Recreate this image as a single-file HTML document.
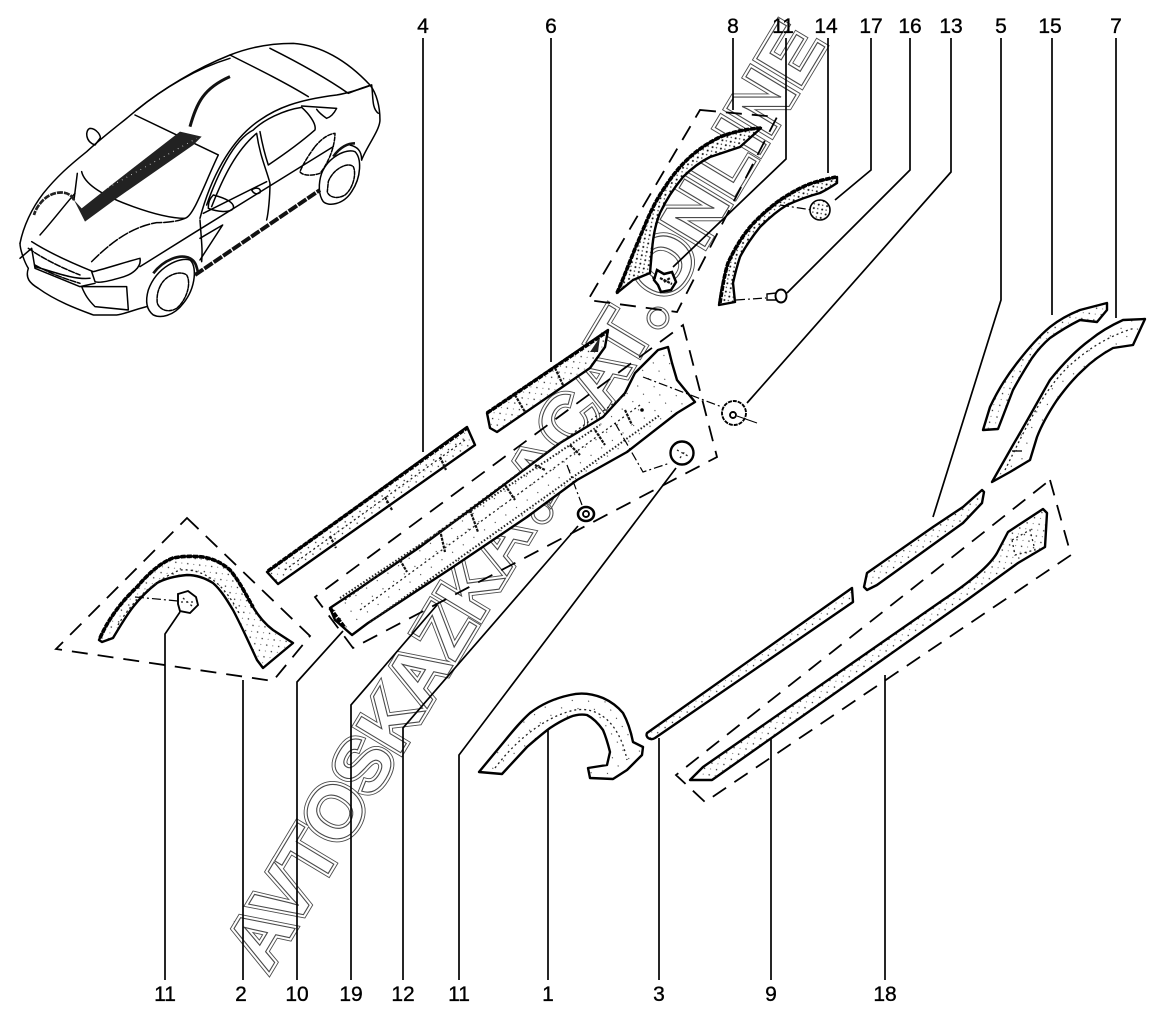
<!DOCTYPE html>
<html><head><meta charset="utf-8"><style>
html,body{margin:0;padding:0;background:#fff}
svg{display:block}
.w1{font:bold 76px "Liberation Sans",sans-serif;fill:#fff;stroke:#4a4a4a;stroke-width:7;stroke-linejoin:miter}
.w2{font:bold 76px "Liberation Sans",sans-serif;fill:#fff;stroke:#fff;stroke-width:5.2;stroke-linejoin:miter}
.w3{font:bold 76px "Liberation Sans",sans-serif;fill:#fff;stroke:#4a4a4a;stroke-width:1.1}
.l{font:21px "Liberation Sans",sans-serif;fill:#000;text-anchor:middle;stroke:#000;stroke-width:.35}
.ld{fill:none;stroke:#000;stroke-width:1.7}
.bx{fill:none;stroke:#000;stroke-width:1.8;stroke-dasharray:16 10}
.p{fill:url(#st);stroke:#000;stroke-width:2.4;stroke-linejoin:round}
.p2{fill:url(#st2);stroke:#000;stroke-width:2.4;stroke-linejoin:round}
.p0{fill:url(#st0);stroke:#000;stroke-width:2.4;stroke-linejoin:round}
.e{fill:none;stroke:#000;stroke-width:3.6;stroke-dasharray:5 1.2}
.d{fill:none;stroke:#222;stroke-width:1.3;stroke-dasharray:2 3}
.r{fill:none;stroke:#111;stroke-width:2.2;stroke-dasharray:3 1}
.c{fill:none;stroke:#000;stroke-width:1.2;stroke-dasharray:9 3 2 3}
.f{fill:#fff;stroke:#000;stroke-width:1.9}
.car{fill:none;stroke:#000;stroke-width:4.5;stroke-linecap:round;stroke-linejoin:round}
.ring{fill:none;stroke:#555;stroke-width:1.1}
</style></head><body>
<svg width="1163" height="1018" viewBox="0 0 1163 1018" xmlns="http://www.w3.org/2000/svg">
<defs>
<pattern id="st" width="9" height="8" patternUnits="userSpaceOnUse" patternTransform="rotate(-35)">
<rect width="9" height="8" fill="#fff"/><circle cx="1.5" cy="1.5" r=".7" fill="#222"/><circle cx="6" cy="5.5" r=".55" fill="#555"/>
</pattern>
<pattern id="st2" width="6" height="6" patternUnits="userSpaceOnUse" patternTransform="rotate(-35)">
<rect width="6" height="6" fill="#fff"/><circle cx="1.3" cy="1.3" r="1" fill="#111"/><circle cx="4.2" cy="4" r=".7" fill="#333"/>
</pattern>
<pattern id="st0" width="13" height="10" patternUnits="userSpaceOnUse" patternTransform="rotate(-35)">
<rect width="13" height="10" fill="#fff"/><circle cx="2" cy="2" r=".6" fill="#333"/>
</pattern>
</defs>

<!-- watermark: baseline from (270,978) at -59deg -->
<g transform="translate(270,978) rotate(-59)">
<g class="wm">
<text class="w1" x="3" y="-4" textLength="516" lengthAdjust="spacingAndGlyphs">AVTOSKAZKA</text>
<text class="w1" x="549" y="-4" textLength="203" lengthAdjust="spacingAndGlyphs">ACAT</text>
<text class="w1" x="783" y="-4" textLength="304" lengthAdjust="spacingAndGlyphs">ONLINE</text>
<text class="w2" x="3" y="-4" textLength="516" lengthAdjust="spacingAndGlyphs">AVTOSKAZKA</text>
<text class="w2" x="549" y="-4" textLength="203" lengthAdjust="spacingAndGlyphs">ACAT</text>
<text class="w2" x="783" y="-4" textLength="304" lengthAdjust="spacingAndGlyphs">ONLINE</text>
<text class="w3" x="3" y="-4" textLength="516" lengthAdjust="spacingAndGlyphs">AVTOSKAZKA</text>
<text class="w3" x="549" y="-4" textLength="203" lengthAdjust="spacingAndGlyphs">ACAT</text>
<text class="w3" x="783" y="-4" textLength="304" lengthAdjust="spacingAndGlyphs">ONLINE</text>
</g>
</g>
<circle class="ring" cx="542" cy="513" r="11"/><circle class="ring" cx="542" cy="513" r="8"/>
<circle class="ring" cx="658" cy="318" r="11"/><circle class="ring" cx="658" cy="318" r="8"/>

<!-- car -->
<g transform="translate(0,30) scale(.3333)">
<path class="car" d="M60 640C70 590 95 535 130 490C170 440 210 405 260 365C320 310 370 275 410 240C490 175 590 115 690 75C740 55 800 40 880 40C960 45 1040 90 1110 165C1130 190 1140 230 1140 270C1140 300 1100 350 1085 390"/>
<path class="car" d="M410 240C490 175 590 115 690 85M690 75C780 120 860 160 925 200M810 55C900 100 980 145 1045 190M1045 190C1070 180 1095 170 1115 165M1115 165C1120 200 1115 235 1135 250"/>
<path class="car" d="M405 255L655 375M245 425C255 470 330 505 400 530C450 548 510 565 555 565C580 560 610 470 655 375"/>
<path class="car" d="M600 565C630 450 690 330 780 270C830 235 890 210 1010 195C1040 190 1080 178 1115 165"/>
<path class="car" d="M620 525C650 440 700 330 760 300M635 530C670 440 710 360 770 310M760 300C790 270 850 240 905 232C925 250 950 280 945 300M780 305C790 360 800 390 805 405C850 375 905 335 945 300M770 310C780 380 800 420 810 460C810 500 805 550 800 570M600 570C605 640 608 660 605 695"/>
<path class="car" d="M905 228L1010 235C1000 255 990 262 980 265C965 255 955 245 950 238"/>
<path class="car" d="M945 350C970 320 990 312 1005 310C1005 350 985 400 960 430C930 440 905 435 900 425C910 400 930 370 945 350" stroke-dasharray="12 5"/>
<path class="car" d="M640 495C680 505 705 520 700 535C690 550 650 545 625 535C625 515 630 505 640 495M610 550L800 455M755 480C770 470 785 475 780 488C770 495 760 490 755 480"/>
<path class="car" d="M600 690L668 585L600 625M420 710L580 610L1000 350"/>
<path class="car" d="M275 695C340 630 400 590 470 578C510 578 540 572 555 565" stroke-dasharray="30 6"/>
<path class="car" d="M120 615C160 570 190 530 225 490" />
<path class="car" d="M232 430L222 510"/>
<path class="car" d="M95 635C150 670 230 705 280 725C330 712 380 695 420 685C425 710 400 735 355 745C320 755 295 760 285 755L275 725"/>
<path class="car" d="M60 640C60 660 75 700 85 715C75 745 90 760 115 775C170 815 240 840 280 855L350 855C365 855 400 840 440 830"/>
<path class="car" d="M60 685L95 655L105 715L240 770L285 760M105 710C160 725 220 750 270 745M245 770L380 770L385 840L285 830C265 810 255 795 245 770"/>
<path class="car" d="M85 655C135 690 190 715 240 735M105 705C150 730 190 745 240 760" stroke-dasharray="18 5"/>
<path class="car" d="M445 780C470 710 540 680 570 690C590 705 590 770 550 820C520 860 480 865 460 855C440 840 435 815 445 780Z"/>
<path class="car" d="M480 770C495 735 540 720 560 735C575 760 560 810 530 835C505 850 480 840 472 820C470 805 472 785 480 770Z" stroke-dasharray="10 4" stroke-width="3"/>
<path class="car" d="M965 430C985 380 1040 355 1065 365C1085 385 1085 440 1055 485C1030 525 985 530 970 515C955 495 955 460 965 430Z"/>
<path class="car" d="M985 455C1000 415 1045 395 1060 410C1070 430 1060 475 1035 495C1010 510 985 500 982 485Z" stroke-dasharray="10 4" stroke-width="3"/>
<path class="car" d="M1085 390C1085 360 1070 350 1050 345"/>
<path class="car" d="M285 345C255 335 255 300 270 295C290 295 305 320 300 325L285 345Z"/>
<!-- thick dark moldings -->
<path d="M222 510L245 535L330 468L540 305L605 320L580 345L350 505L255 575Z" fill="#222"/>
<path d="M240 520L590 325" fill="none" stroke="#fff" stroke-width="3" stroke-dasharray="2 14"/>
<path d="M222 510C210 480 160 480 130 510C110 530 105 545 102 555" fill="none" stroke="#222" stroke-width="8" stroke-dasharray="18 3"/>
<path d="M570 290C590 220 610 175 690 140" fill="none" stroke="#111" stroke-width="9"/>
<path d="M585 735L960 480" fill="none" stroke="#111" stroke-width="12" stroke-dasharray="30 4"/>
<path d="M460 730C490 690 540 670 570 685C590 695 590 715 595 730" fill="none" stroke="#111" stroke-width="8"/>
<path d="M1000 380C1020 350 1045 340 1065 340" fill="none" stroke="#111" stroke-width="8"/>
</g>

<!-- dashed boxes -->
<path class="bx" d="M187 518L310 636L273 681L56 649Z"/>
<path class="bx" d="M700 110L777 117L677 312L588 300Z"/>
<path class="bx" d="M683 325L717 457L353 648L315 597Z"/>
<path class="bx" d="M1050 480L1071 555L705 802L676 775Z"/>

<!-- part 2 -->
<path class="p" d="M99 640C108 620 120 603 137 587C148 574 160 563 173 558C183 556 193 556 203 557C214 559 222 563 230 570C240 582 246 595 253 607C259 617 265 624 273 630L293 643L263 668L257 660C250 645 242 627 233 610C227 600 221 590 213 583C205 578 196 575 187 575C176 576 166 578 157 583C148 590 140 598 133 607C126 616 119 628 113 638L102 642Z"/>
<path class="e" d="M100 638C108 620 120 603 137 587C148 574 160 563 173 558C183 556 193 556 203 557C214 559 222 563 230 570C240 582 246 595 253 607"/>
<path class="d" d="M118 625C130 605 150 582 180 570C205 568 225 585 240 615"/>
<!-- part 1 -->
<path class="p0" d="M479 772L503 743C512 732 520 722 530 713C543 703 556 698 570 695C582 692 593 694 603 698C612 702 618 707 623 713C628 722 631 732 633 742L643 747L642 755L627 770L613 779L590 778L588 768L607 765L610 752C608 744 606 737 603 730C598 723 593 718 587 715C581 714 575 715 570 717C563 720 556 724 550 728C542 734 535 740 527 747L502 774Z"/>
<path class="d" d="M495 768C520 735 550 715 575 710C600 706 620 725 627 760"/>
<!-- part 4 -->
<path class="p" d="M267 572L467 427L475 445L278 584Z"/>
<path class="e" d="M268 571L467 428"/>
<path class="d" d="M285 570L465 440"/>
<path class="r" d="M330 536L336 548M385 497L392 510M440 457L446 470"/>
<!-- part 6 -->
<path class="p" d="M487 413L608 330L605 347L590 368L497 432L490 428Z"/>
<path class="e" d="M487 413L608 331"/>
<path class="r" d="M515 395L525 412M555 368L563 385"/>
<path d="M600 337L590 352L598 352Z" fill="#222"/>
<!-- part 10 -->
<path class="p0" d="M330 608L357 590L420 547L493 493L560 443L603 417L625 393L635 373L658 350L668 347L672 363L677 380L695 402L677 413L627 452L577 480L527 517L453 567L368 623L352 635L335 620Z"/>
<path class="d" d="M360 610L640 405"/>
<path class="d" d="M345 600L625 395"/>
<path class="d" d="M340 598L600 425" style="stroke-width:2;stroke-dasharray:1.5 2"/>
<path class="d" d="M370 622L660 415" style="stroke-width:2;stroke-dasharray:1.5 2"/>
<path class="r" d="M400 560L407 572M440 530L445 552M470 510L478 532M505 485L515 500M535 465L545 470M570 445L580 455M595 430L605 445M625 410L632 425"/>
<path d="M330 608L345 628" class="e"/>
<circle cx="642" cy="410" r="1.8" fill="#000"/>
<!-- part 8 -->
<path class="p2" d="M617 293C625 275 632 255 640 237C647 220 653 205 663 190C672 176 680 166 690 157C700 148 710 142 720 137C735 131 748 129 761 128L740 147L710 157C700 162 691 169 683 177C674 188 666 200 660 213C655 225 653 238 652 250L650 273L633 280Z"/>
<path class="e" d="M617 293C625 275 632 255 640 237C647 220 653 205 663 190C672 176 680 166 690 157C700 148 710 142 720 137C735 131 748 129 761 128"/>
<!-- part 14 -->
<path class="p2" d="M719 305C721 290 724 276 728 263C734 250 741 238 750 227C759 217 769 208 780 200C789 194 798 189 807 185C817 181 827 179 837 177L837 183C831 187 826 190 820 193C809 196 798 200 787 205C777 211 768 219 760 227C752 237 745 247 740 257C737 266 735 274 733 283L735 302Z"/>
<path class="e" d="M720 303C722 290 724 276 728 263C734 250 741 238 750 227C759 217 769 208 780 200C789 194 798 189 807 185C817 181 827 179 836 177"/>
<!-- part 15 -->
<path class="p" d="M983 430L990 407C997 392 1006 377 1017 363C1027 350 1038 337 1050 327C1060 319 1070 314 1080 310L1107 303L1107 310L1097 322L1080 320C1070 325 1060 331 1050 338C1043 344 1037 351 1032 358C1025 369 1019 379 1013 390L998 429Z"/>
<!-- part 7 -->
<path class="p0" d="M992 482L1013 445C1026 423 1038 401 1050 380C1062 365 1075 351 1090 340C1101 331 1112 325 1123 320L1145 319L1133 345L1113 348C1102 354 1092 361 1083 370C1073 379 1065 389 1057 400C1049 412 1042 424 1037 437L1030 460L1010 472Z"/>
<path class="d" d="M1005 470C1020 440 1040 395 1065 370C1085 350 1110 335 1135 328"/>
<path d="M1012 451L1022 451" stroke="#000" stroke-width="1.3"/>
<!-- part 5 -->
<path class="p" d="M864 587L867 573L933 527L963 507L982 490L984 492L982 503L963 523L877 585L867 590Z"/>
<!-- part 3 -->
<path class="p" d="M647 733L852 588L853 602L655 738C650 741 645 737 647 733Z"/>
<!-- part 9 -->
<path class="p" d="M690 780L703 767L943 600C970 582 990 565 997 553L1008 532L1043 509L1047 513L1045 547L1018 563L967 600L712 780Z"/>
<path class="d" d="M1012 540L1030 530L1035 550L1015 555Z"/>

<!-- fasteners & centre lines -->
<path class="c" d="M135 597L178 601"/>
<path class="f" d="M178 594L188 591L196 597L198 605L190 613L180 611L178 604Z"/>
<path class="d" d="M181 602L194 602M183 598L192 606"/>
<path class="f" style="stroke-width:2.5" d="M657 270L664 274L672 272L676 282L671 290L661 292L658 285L654 280Z"/>
<path class="r" d="M660 278L672 284M664 282L670 278"/>
<path class="c" d="M652 278L656 278"/>
<path class="c" d="M780 205L812 210"/>
<circle cx="820" cy="210" r="10" fill="url(#st2)" stroke="#000" stroke-width="1.6"/>
<path class="c" d="M736 300L766 298"/>
<path class="f" d="M767 294L776 293L776 300L767 300Z" style="stroke-width:1.4"/>
<ellipse class="f" cx="781" cy="296" rx="5.5" ry="6.5"/>
<path class="c" d="M643 377L722 407"/>
<circle class="f" cx="734" cy="413" r="12" style="stroke-dasharray:4 1"/>
<circle class="f" cx="733" cy="415" r="3"/>
<path d="M737 416L757 423" stroke="#000" stroke-width="1" fill="none"/>
<path class="c" d="M615 423L643 472L670 463"/>
<circle class="f" cx="682" cy="453" r="11.5" style="stroke-width:2.4"/>
<path class="d" d="M677 450L688 456M680 458L686 450"/>
<path class="c" d="M567 465L582 505"/>
<ellipse class="f" cx="586" cy="514" rx="8" ry="7" style="stroke-width:2.6"/>
<circle class="f" cx="586" cy="514" r="3"/>

<!-- leaders -->
<path class="ld" d="M423 38V452M551 38V362M733 38V110M786 38V159L673 267M828 38V173M871 38V170L835 200M910 38V170L787 293M951 38V172L747 403M1001 38V300L933 517M1052 38V315M1116 38V318"/>
<path class="ld" d="M165 980V634L180 612M243 980V680M297 980V682L343 631M351 980V705L437 605M403 980V728L578 526M459 980V755L676 468M548 980V730M659 980V738M771 980V738M885 980V675"/>

<!-- labels -->
<g>
<text class="l" x="423" y="33">4</text><text class="l" x="551" y="33">6</text><text class="l" x="733" y="33">8</text><text class="l" x="783" y="33">11</text><text class="l" x="826" y="33">14</text><text class="l" x="871" y="33">17</text><text class="l" x="910" y="33">16</text><text class="l" x="951" y="33">13</text><text class="l" x="1001" y="33">5</text><text class="l" x="1050" y="33">15</text><text class="l" x="1116" y="33">7</text>
<text class="l" x="165" y="1001">11</text><text class="l" x="241" y="1001">2</text><text class="l" x="297" y="1001">10</text><text class="l" x="351" y="1001">19</text><text class="l" x="403" y="1001">12</text><text class="l" x="459" y="1001">11</text><text class="l" x="548" y="1001">1</text><text class="l" x="659" y="1001">3</text><text class="l" x="771" y="1001">9</text><text class="l" x="885" y="1001">18</text>
</g>
</svg>
</body></html>
